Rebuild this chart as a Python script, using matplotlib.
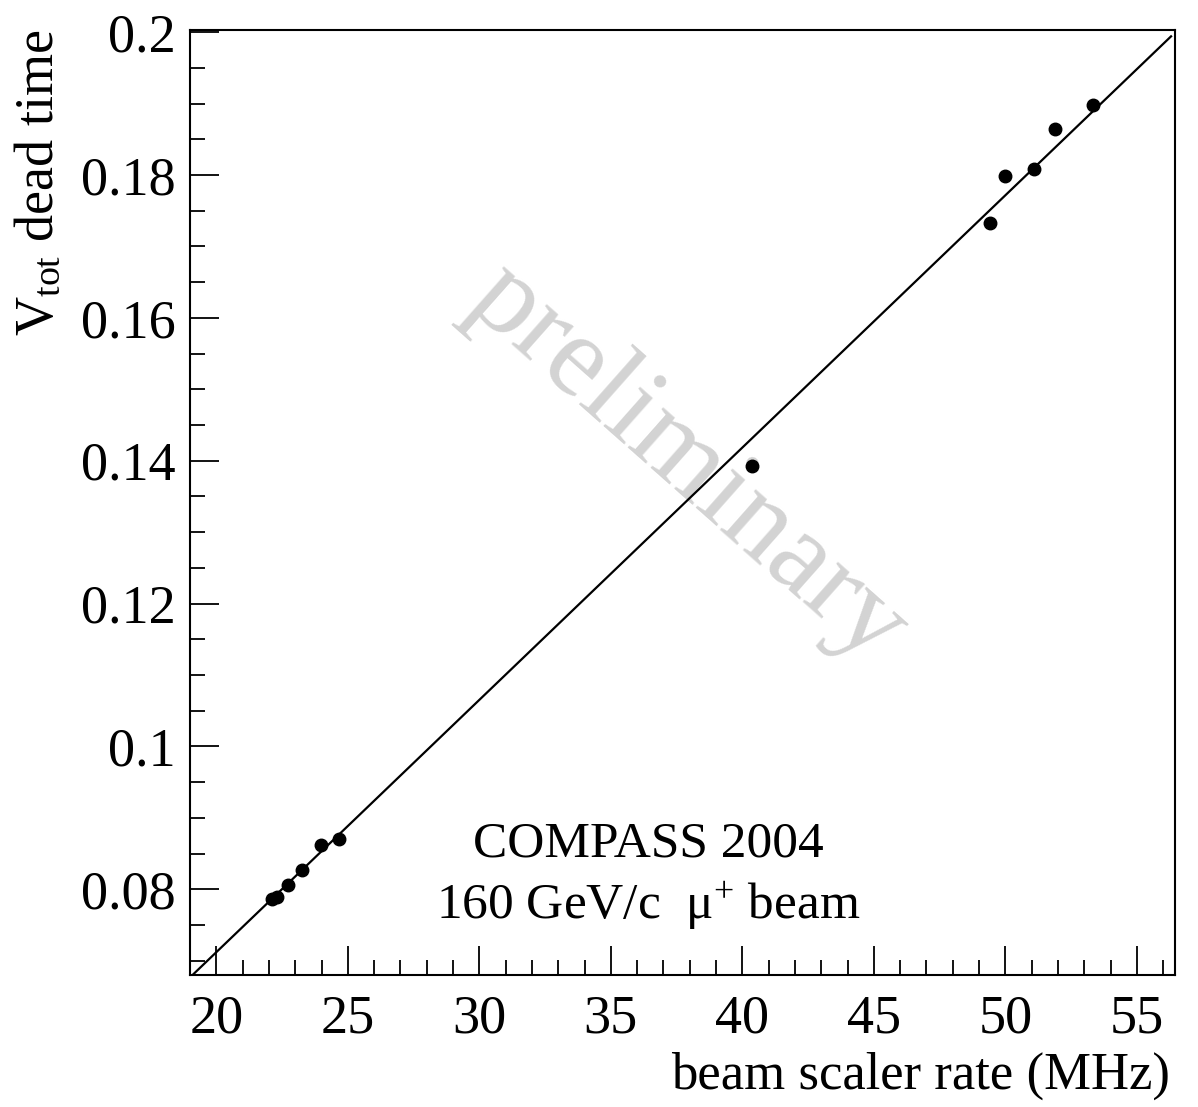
import matplotlib
matplotlib.use('Agg')
import matplotlib.pyplot as plt
from matplotlib.ticker import MultipleLocator
import numpy as np

plt.rcParams['font.family'] = ['Liberation Serif', 'DejaVu Serif']
plt.rcParams['mathtext.fontset'] = 'custom'
plt.rcParams['mathtext.rm'] = 'Liberation Serif'
plt.rcParams['mathtext.it'] = 'Liberation Serif:italic'

# beam scaler rate (MHz) vs Vtot dead time
rate = [22.13, 22.32, 22.74, 23.27, 23.99, 24.68, 40.38, 49.43, 50.00, 51.10, 51.90, 53.35]
dead_time = [0.0787, 0.0789, 0.0806, 0.0827, 0.0862, 0.0871, 0.1393, 0.1733, 0.1799, 0.1808, 0.1864, 0.1898]

# linear fit drawn on the plot
fit_slope = 0.003532
fit_offset = 0.00056
fit_range = [19.0, 56.3]

fig = plt.figure(figsize=(11.98, 11.07), dpi=100)
ax = fig.add_axes([0.1586, 0.1192, 0.8222, 0.8537])

fx = np.array(fit_range)
ax.plot(fx, fit_slope * fx + fit_offset, color='black', lw=1.6, zorder=3)
ax.plot(rate, dead_time, 'o', color='black', ms=9, zorder=4)

# watermark
ax.text(0.505, 0.54, 'preliminary', transform=ax.transAxes, rotation=-41.5,
        fontsize=84, color='#d3d3d3', ha='center', va='center', zorder=1,
        rotation_mode='anchor')

ax.text(0.465, 0.138, 'COMPASS 2004', transform=ax.transAxes,
        ha='center', va='center', fontsize=37)
ax.text(0.465, 0.073, '160 GeV/c  \u03bc$^{+}$ beam', transform=ax.transAxes,
        ha='center', va='center', fontsize=37)

ax.set_xlim(19.0, 56.45)
ax.set_ylim(0.068, 0.2003)

ax.xaxis.set_major_locator(MultipleLocator(5))
ax.xaxis.set_minor_locator(MultipleLocator(1))
ax.yaxis.set_major_locator(MultipleLocator(0.02))
ax.yaxis.set_minor_locator(MultipleLocator(0.005))
ax.set_yticks([0.08, 0.1, 0.12, 0.14, 0.16, 0.18, 0.2])
ax.set_yticklabels(['0.08', '0.1', '0.12', '0.14', '0.16', '0.18', '0.2'])

ax.tick_params(which='both', direction='in', top=False, right=False,
               labelsize=39, width=1.3)
ax.tick_params(which='major', length=21, pad=10)
ax.tick_params(which='minor', length=11)
ax.tick_params(axis='x', which='major', pad=14)
for s in ax.spines.values():
    s.set_linewidth(1.5)

ax.set_xlabel('beam scaler rate (MHz)', fontsize=38, ha='right', x=0.995, labelpad=5)
ax.set_ylabel(r'V$_{\rm tot}$ dead time', fontsize=39, ha='right', y=1.0, labelpad=12)

fig.savefig('out.png', dpi=100)
